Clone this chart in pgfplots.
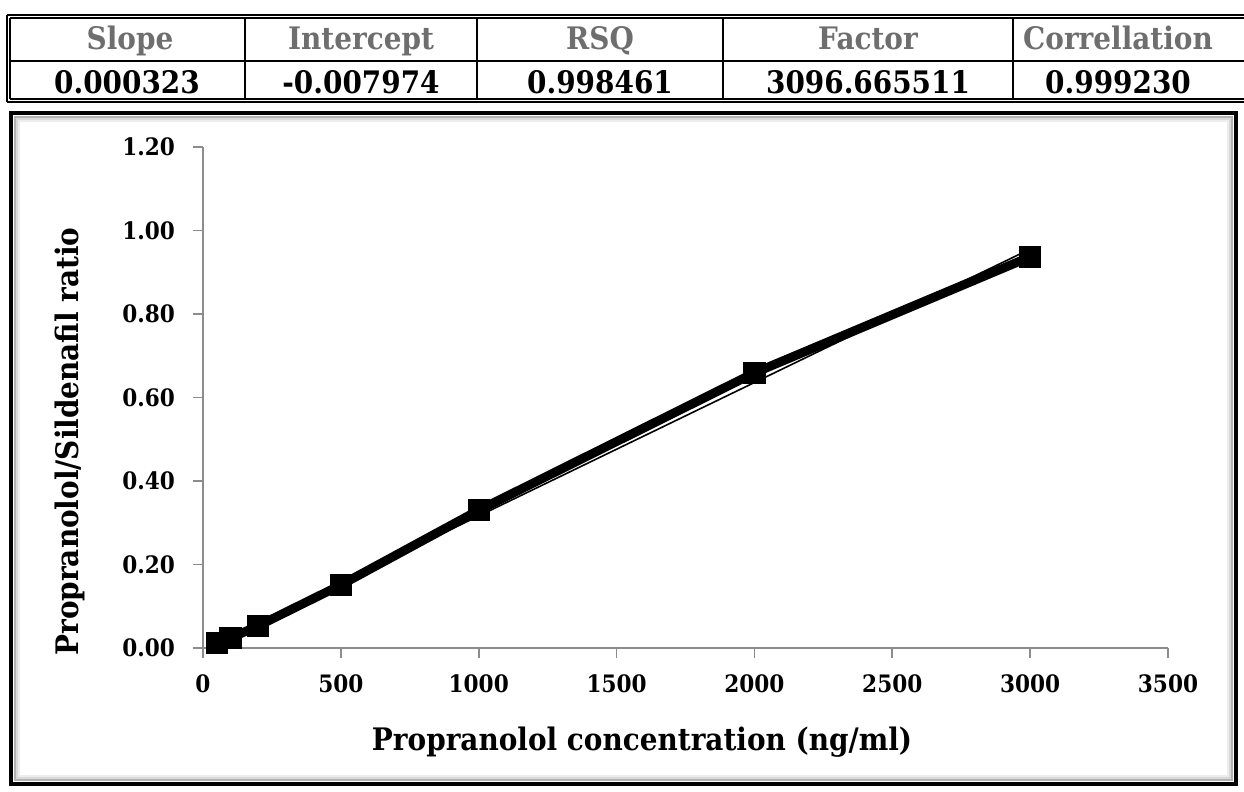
\documentclass[border=0pt]{standalone}
\usepackage{fontspec}
\setmainfont{DejaVu Serif}[FakeStretch=0.9]
\usepackage{pgfplots}
\pgfplotsset{compat=1.18}
\definecolor{hdr}{HTML}{6E6E6E}
\definecolor{axgray}{HTML}{8C8C8C}
\pgfplotstableread{
x y
50 0.012
100 0.024
200 0.053
500 0.151
1000 0.330
2000 0.659
3000 0.937
}\datatable
\pgfplotstableread{
x y
50 0.0127
3000 0.9555
}\trendtable
\begin{document}
\begin{tikzpicture}
\path[use as bounding box] (0,0) rectangle (622pt,-396pt);
% ---- table ----
\begin{scope}[line width=1pt]
\draw (3.5pt,-7.5pt) -- (640pt,-7.5pt);
\draw (5pt,-9pt) -- (640pt,-9pt);
\draw (3.5pt,-51pt) -- (640pt,-51pt);
\draw (5pt,-49.5pt) -- (640pt,-49.5pt);
\draw (3.5pt,-7.5pt) -- (3.5pt,-51pt);
\draw (5pt,-9pt) -- (5pt,-49.5pt);
\draw[line width=1.2pt] (5pt,-30.5pt) -- (640pt,-30.5pt);
\foreach \x in {122.5,238.5,361.5,506.5} \draw[line width=1.2pt] (\x pt,-9pt) -- (\x pt,-49.5pt);
\end{scope}
\tikzset{hd/.style={font=\fontsize{15.5}{17}\selectfont\bfseries, text=hdr, anchor=base, inner sep=0pt},
         vl/.style={font=\fontsize{15.5}{17}\selectfont\bfseries, text=black, anchor=base, inner sep=0pt}}
\node[hd] at (65pt,-25pt) {Slope};
\node[hd] at (180.5pt,-25pt) {Intercept};
\node[hd] at (300pt,-25pt) {RSQ};
\node[hd] at (434pt,-25pt) {Factor};
\node[hd] at (559pt,-25pt) {Correllation};
\node[vl] at (63.5pt,-47pt) {0.000323};
\node[vl] at (180.5pt,-47pt) {-0.007974};
\node[vl] at (300pt,-47pt) {0.998461};
\node[vl] at (434pt,-47pt) {3096.665511};
\node[vl] at (559pt,-47pt) {0.999230};
% ---- chart frame ----
\draw[black!30, line width=1pt] (7.5pt,-58.5pt) rectangle (616pt,-390pt);
\draw[black!15, line width=1pt] (8.5pt,-59.5pt) rectangle (615pt,-389pt);
\draw[black!7, line width=1.2pt] (9.6pt,-60.6pt) rectangle (613.9pt,-387.9pt);
\draw[black, line width=1.6pt] (5.5pt,-56.5pt) rectangle (618pt,-392pt);
% ---- axis ----
\begin{axis}[
  at={(101.5pt,-324pt)}, anchor=south west,
  width=482.5pt, height=250.5pt, scale only axis,
  xmin=0, xmax=3500, ymin=0, ymax=1.2,
  axis x line*=bottom, axis y line*=left,
  axis line style={-, draw=axgray, line width=0.8pt},
  xtick={0,500,1000,1500,2000,2500,3000,3500},
  ytick={0,0.2,0.4,0.6,0.8,1.0,1.2},
  tick align=outside, major tick length=5pt,
  tick style={draw=axgray, line width=0.8pt},
  /pgf/number format/assume math mode=true,
  ticklabel style={font=\fontsize{12}{14}\selectfont\bfseries},
  yticklabel style={xshift=-5.5pt, /pgf/number format/.cd, fixed, fixed zerofill, precision=2},
  xticklabel style={yshift=-5pt, /pgf/number format/.cd, set thousands separator={}},
  scaled ticks=false,
  xlabel={Propranolol concentration (ng/ml)},
  ylabel={Propranolol/Sildenafil ratio},
  xlabel style={at={(axis description cs:0.455,-0.2036)}, anchor=base, font=\fontsize{15.5}{18}\selectfont\bfseries},
  ylabel style={at={(axis description cs:-0.138,0.412)}, anchor=center, font=\fontsize{15.5}{18}\selectfont\bfseries},
  clip=false,
]
\addplot[black, line width=0.8pt] table[x=x,y=y] {\trendtable};
\addplot[black, line width=4.5pt, line join=round, mark=square*, mark size=5.3pt,
  mark options={solid, line width=0pt, line join=miter, draw=black, fill=black}] table[x=x,y=y] {\datatable};
\end{axis}
\end{tikzpicture}
\end{document}
